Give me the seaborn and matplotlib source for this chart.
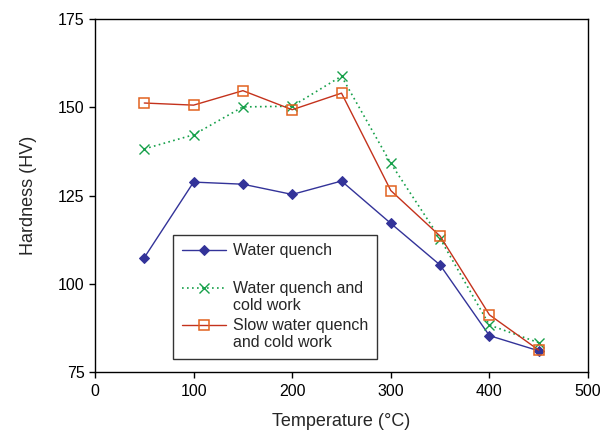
"""
Hardness vs temperature for three quench / cold-work treatments
"""

import matplotlib
matplotlib.use("Agg")
import matplotlib.pyplot as plt
from matplotlib.legend_handler import HandlerLine2D
import seaborn as sns
import pandas as pd

# Data
temperature = [50, 100, 150, 200, 250, 300, 350, 400, 450]
water_quench = [107.4, 128.8, 128.2, 125.3, 129.1, 117.1, 105.3, 85.3, 81.0]
water_quench_cw = [138.2, 142.2, 150.1, 150.3, 158.8, 134.1, 112.8, 88.3, 83.3]
slow_quench_cw = [151.2, 150.6, 154.7, 149.3, 154.0, 126.4, 113.5, 91.2, 81.2]

labels = ["Water quench\n ", "Water quench and\ncold work", "Slow water quench\nand cold work"]
x_ticks = [0, 100, 200, 300, 400, 500]
y_ticks = [75, 100, 125, 150, 175]

df = pd.DataFrame({"T": temperature, "wq": water_quench,
                   "wqcw": water_quench_cw, "swqcw": slow_quench_cw})

sns.set_style("white")
plt.rcParams['font.family'] = ['Liberation Sans', 'DejaVu Sans']

fig = plt.figure(figsize=(6.14, 4.32), dpi=100)
ax = fig.add_axes([0.1547, 0.1389, 0.8030, 0.8171])

blue = "#333399"
green = "#16a04a"
red = "#c4321c"
orange = "#e2621f"

sns.lineplot(data=df, x="T", y="wq", ax=ax, color=blue, lw=1.0,
             marker="D", markersize=5, markerfacecolor=blue, markeredgecolor=blue,
             label=labels[0])
sns.lineplot(data=df, x="T", y="wqcw", ax=ax, color=green, lw=1.2,
             linestyle=(0, (1, 2.0)), marker="x", markersize=7.5,
             markeredgewidth=1.0, markeredgecolor=green, label=labels[1])
sns.lineplot(data=df, x="T", y="swqcw", ax=ax, color=red, lw=1.0,
             marker="s", markersize=7.5, markerfacecolor="none",
             markeredgecolor=orange, markeredgewidth=1.1, label=labels[2])

ax.set_xlim(0, 500)
ax.set_ylim(75, 175)
ax.set_xticks(x_ticks)
ax.set_yticks(y_ticks)
ax.tick_params(axis="both", direction="out", length=4, width=1, labelsize=11.5,
               bottom=True, left=True, colors="black")
ax.tick_params(axis="x", pad=5)
ax.set_xlabel("Temperature (°C)", fontsize=13, labelpad=10)
ax.set_ylabel("Hardness (HV)", fontsize=13, labelpad=15)
for sp in ax.spines.values():
    sp.set_visible(True)
    sp.set_color("black")
    sp.set_linewidth(1.0)
ax.grid(False)


# put the legend handle on the first text line of each entry
class FirstLineHandler(HandlerLine2D):
    def create_artists(self, legend, orig_handle, xdescent, ydescent,
                       width, height, fontsize, trans):
        return super().create_artists(legend, orig_handle, xdescent,
                                      ydescent - 1.2 * fontsize, width, height,
                                      fontsize, trans)


handles, lbls = ax.get_legend_handles_labels()
leg = ax.legend(handles, lbls, loc="lower left", bbox_to_anchor=(0.158, 0.037),
                fontsize=11.5, frameon=True, fancybox=False, framealpha=1,
                edgecolor="#333333", borderpad=0.55, labelspacing=0.3,
                handlelength=2.8, handletextpad=0.4, borderaxespad=0,
                handler_map={h: FirstLineHandler() for h in handles})
leg.get_frame().set_linewidth(1.0)

fig.savefig("out.png", dpi=100)
